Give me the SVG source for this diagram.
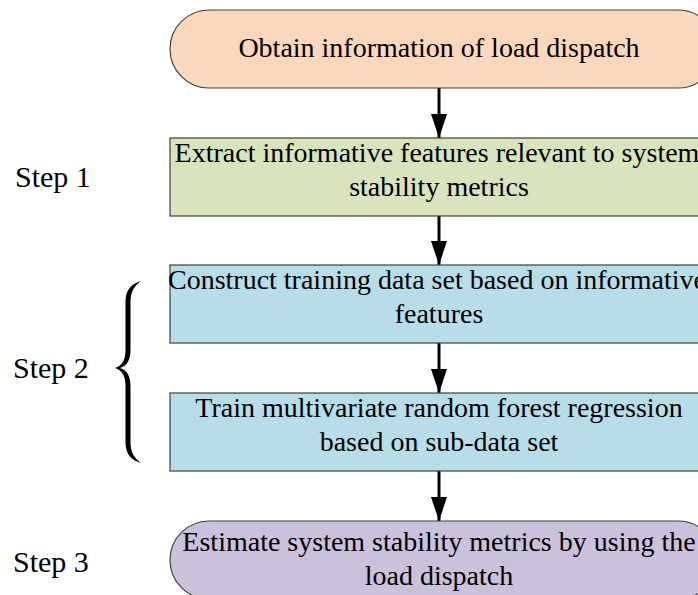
<svg xmlns="http://www.w3.org/2000/svg" width="698" height="595" viewBox="0 0 698 595">
  <style>
    .t { font-family: "Liberation Serif", "Times New Roman", serif; font-size: 28px; fill: #000; text-anchor: middle; }
    .s { font-family: "Liberation Serif", "Times New Roman", serif; font-size: 30px; fill: #000; }
    .box { stroke: #3f3f3f; stroke-width: 1.2; }
    .conn { stroke: #000; stroke-width: 3; fill: none; }
  </style>
  <defs>
    <marker id="ah" markerUnits="userSpaceOnUse" markerWidth="24" markerHeight="16" refX="24" refY="8" orient="auto" viewBox="0 0 24 16">
      <polygon points="0,0 24,8 0,16" fill="#000"/>
    </marker>
  </defs>
  <rect width="698" height="595" fill="#fff"/>

  <g id="connectors">
    <line class="conn" x1="439" y1="88" x2="439" y2="138" marker-end="url(#ah)"/>
    <line class="conn" x1="439" y1="216" x2="439" y2="265" marker-end="url(#ah)"/>
    <line class="conn" x1="439" y1="343" x2="439" y2="393" marker-end="url(#ah)"/>
    <line class="conn" x1="439" y1="471" x2="439" y2="521" marker-end="url(#ah)"/>
  </g>

  <g id="n1">
    <rect class="box" x="170" y="10" width="547" height="78" rx="39" ry="39" fill="#FBD7BB"/>
    <text class="t" x="439" y="57">Obtain information of load dispatch</text>
  </g>
  <g id="n2">
    <rect class="box" x="170" y="138" width="547" height="78" fill="#D7E4BD"/>
    <text class="t" x="437" y="162">Extract informative features relevant to system</text>
    <text class="t" x="439" y="196">stability metrics</text>
  </g>
  <g id="n3">
    <rect class="box" x="170" y="265" width="547" height="78" fill="#B7DDE8"/>
    <text class="t" x="437" y="289">Construct training data set based on informative</text>
    <text class="t" x="439" y="323">features</text>
  </g>
  <g id="n4">
    <rect class="box" x="170" y="393" width="547" height="78" fill="#B7DDE8"/>
    <text class="t" x="439" y="417">Train multivariate random forest regression</text>
    <text class="t" x="439" y="451">based on sub-data set</text>
  </g>
  <g id="n5">
    <rect class="box" x="170" y="521" width="547" height="78" rx="39" ry="39" fill="#CCC1DA"/>
    <text class="t" x="439" y="551">Estimate system stability metrics by using the</text>
    <text class="t" x="439" y="585">load dispatch</text>
  </g>

  <g id="step1"><text class="s" x="15" y="187">Step 1</text></g>
  <g id="step2"><text class="s" x="13" y="378">Step 2</text></g>
  <g id="step3"><text class="s" x="13" y="572">Step 3</text></g>

  <g id="brace">
    <path fill="#000" d="M141,281 C131,284 125.5,290 125.5,302 L125.5,350 C125.5,360 122,366 115,368 C122,370 125.5,376 125.5,386 L125.5,442 C125.5,454 131,460 141,463 C134,458 130.5,452 130.5,442 L130.5,386 C130.5,376 127,370 120,368 C127,366 130.5,360 130.5,350 L130.5,302 C130.5,292 134,286 141,281 Z"/>
  </g>
</svg>
